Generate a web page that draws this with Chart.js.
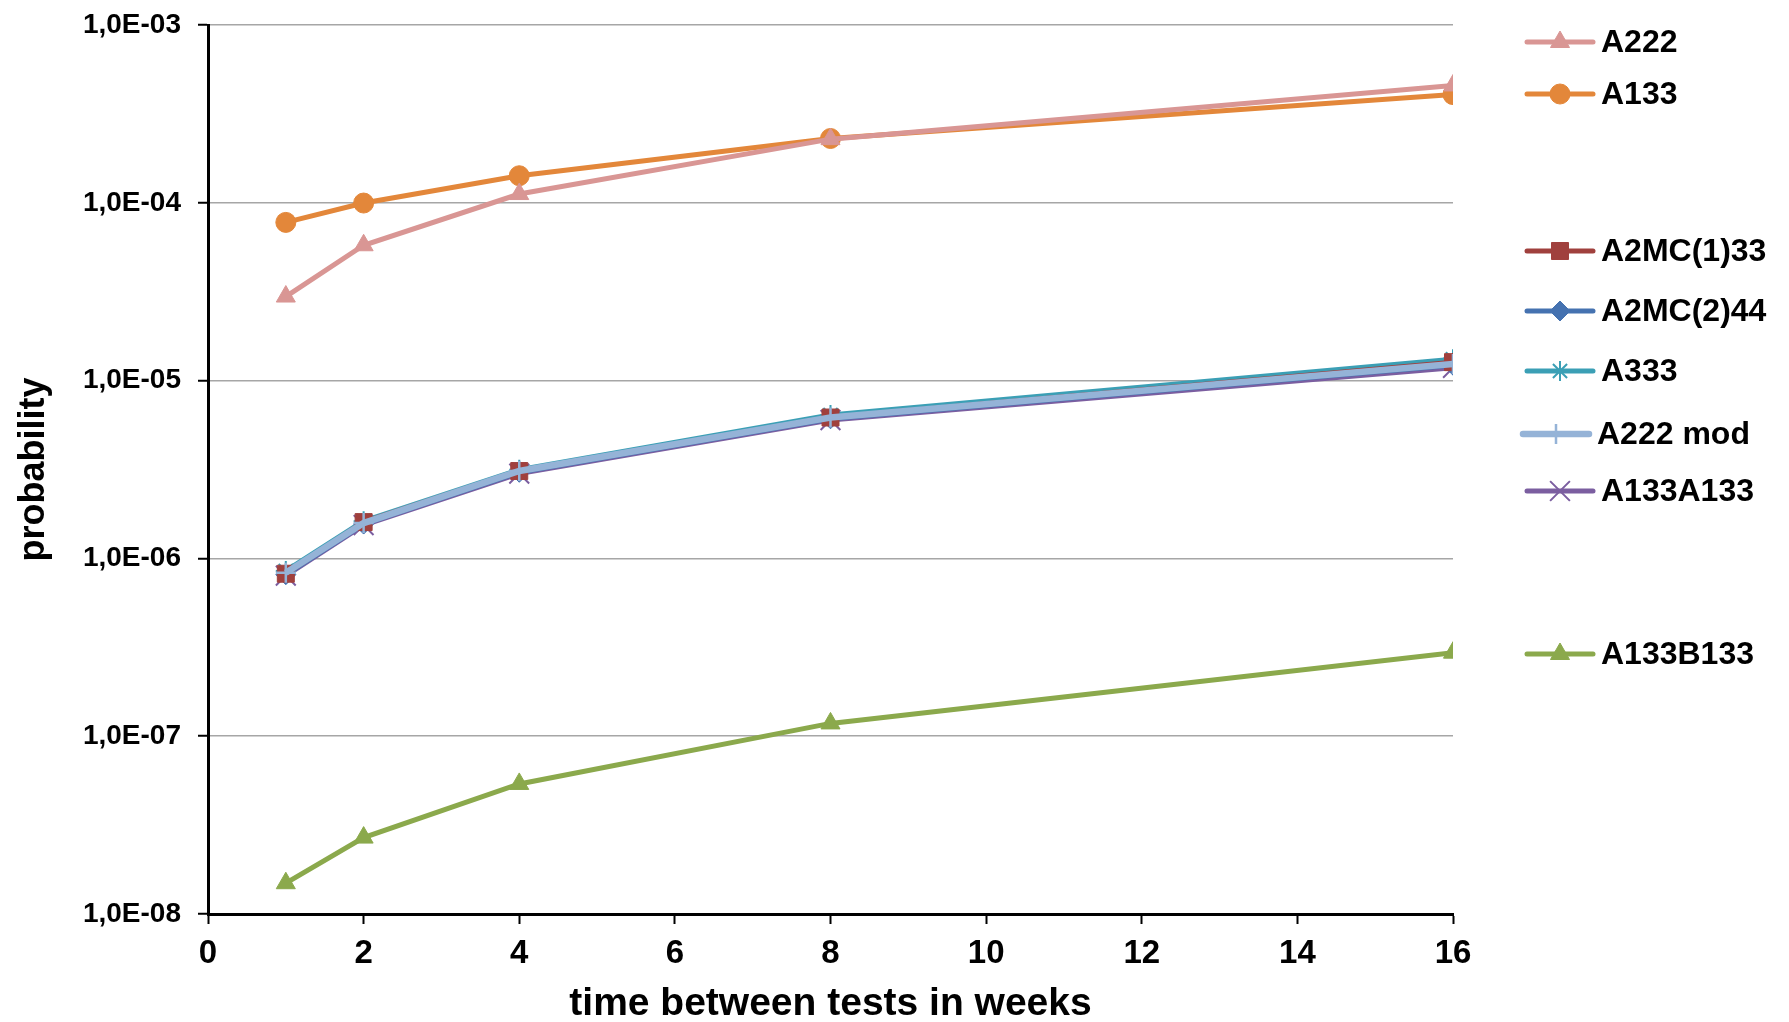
<!DOCTYPE html>
<html>
<head>
<meta charset="utf-8">
<style>
  html, body { margin: 0; padding: 0; background: #fff; }
  #wrap { width: 1789px; height: 1022px; }
</style>
<script src="https://cdn.jsdelivr.net/npm/chart.js@4/dist/chart.umd.min.js"></script>
</head>
<body>
<div id="wrap"><canvas id="c" width="1789" height="1022"></canvas></div>
<script>
// ---------- data ----------
const weeks = [1, 2, 4, 8, 16];
const seriesNames = ['A222', 'A133', 'A2MC(1)33', 'A2MC(2)44', 'A333', 'A222 mod', 'A133A133', 'A133B133'];
const A222      = [2.97e-5, 5.77e-5, 1.12e-4, 2.28e-4, 4.57e-4];
const A133      = [7.76e-5, 9.97e-5, 1.42e-4, 2.30e-4, 4.06e-4];
const A2MC1_33  = [8.2e-7, 1.60e-6, 3.10e-6, 6.2e-6, 1.27e-5];
const A2MC2_44  = [8.1e-7, 1.56e-6, 3.05e-6, 6.1e-6, 1.22e-5];
const A333      = [8.5e-7, 1.62e-6, 3.15e-6, 6.4e-6, 1.32e-5];
const A222mod   = [8.3e-7, 1.58e-6, 3.10e-6, 6.2e-6, 1.24e-5];
const A133A133  = [8.0e-7, 1.54e-6, 3.00e-6, 6.0e-6, 1.18e-5];
const A133B133  = [1.49e-8, 2.69e-8, 5.39e-8, 1.18e-7, 2.95e-7];
const yTickValues = [1e-8, 1e-7, 1e-6, 1e-5, 1e-4, 1e-3];
const yTickLabels = ['1,0E-08', '1,0E-07', '1,0E-06', '1,0E-05', '1,0E-04', '1,0E-03'];
const xTickValues = [0, 2, 4, 6, 8, 10, 12, 14, 16];

// ---------- styles ----------
const styles = [
  { color: '#D99694', style: 'triangle', radius: 11, width: 5,   order: 1, legendY: 42 },
  { color: '#E3873A', style: 'circle',   radius: 10, width: 5,   order: 2, legendY: 94 },
  { color: '#A0403D', style: 'rect',     radius: 12, width: 5,   order: 3, legendY: 251 },
  { color: '#4572B0', style: 'rectRot',  radius: 10, width: 5,   order: 4, legendY: 311 },
  { color: '#3B9FB5', style: 'star',     radius: 10, width: 5,   order: 5, legendY: 371, bw: 2 },
  { color: '#95B3D7', style: 'cross',    radius: 10, width: 6.5, order: 0, legendY: 434, bw: 2.5, shift: -4 },
  { color: '#7B5EA0', style: 'crossRot', radius: 14, width: 5,   order: 6, legendY: 491, bw: 2 },
  { color: '#8BA94C', style: 'triangle', radius: 11, width: 5,   order: 7, legendY: 654 }
];
const allSeries = [A222, A133, A2MC1_33, A2MC2_44, A333, A222mod, A133A133, A133B133];

const datasets = allSeries.map((vals, i) => {
  const s = styles[i];
  return {
    label: seriesNames[i],
    data: weeks.map((w, j) => ({ x: w, y: vals[j] })),
    borderColor: s.color,
    backgroundColor: s.color,
    borderWidth: s.width,
    pointStyle: s.style,
    pointRadius: s.radius,
    pointHoverRadius: s.radius,
    pointBorderWidth: s.bw || 1,
    pointBorderColor: s.color,
    pointBackgroundColor: s.color,
    tension: 0,
    order: s.order
  };
});

const FONT = "'Liberation Sans', Arial, Helvetica, sans-serif";

function drawMarker(ctx, s, x, y) {
  if (Chart.helpers && Chart.helpers.drawPoint) {
    ctx.fillStyle = s.color;
    ctx.strokeStyle = s.color;
    ctx.lineWidth = s.bw || 1;
    Chart.helpers.drawPoint(ctx, { pointStyle: s.style, radius: s.radius, rotation: 0, borderWidth: s.bw || 1 }, x, y);
  }
}

const legendPlugin = {
  id: 'customLegend',
  afterDraw(chart) {
    const ctx = chart.ctx;
    ctx.save();
    seriesNames.forEach((name, i) => {
      const s = styles[i];
      const sh = s.shift || 0;
      const y = s.legendY;
      const x1 = 1527 + sh, x2 = 1593 + sh;
      ctx.strokeStyle = s.color;
      ctx.lineWidth = s.width;
      ctx.lineCap = 'round';
      ctx.beginPath();
      ctx.moveTo(x1, y);
      ctx.lineTo(x2, y);
      ctx.stroke();
      ctx.lineCap = 'butt';
      drawMarker(ctx, s, (x1 + x2) / 2, y);
      ctx.fillStyle = '#000';
      ctx.font = 'bold 32px ' + FONT;
      ctx.textAlign = 'left';
      ctx.textBaseline = 'middle';
      ctx.fillText(name, 1601 + sh, y + 1);
    });
    ctx.restore();
  }
};

new Chart(document.getElementById('c'), {
  type: 'line',
  data: { datasets },
  options: {
    responsive: false,
    animation: false,
    devicePixelRatio: 1,
    layout: { padding: { top: 25, right: 336, bottom: 0, left: 0 } },
    plugins: { legend: { display: false }, tooltip: { enabled: false } },
    scales: {
      x: {
        type: 'linear',
        min: 0, max: 16,
        afterBuildTicks: (s) => { s.ticks = xTickValues.map(v => ({ value: v })); },
        afterFit: (s) => { s.height = 108; },
        grid: { drawOnChartArea: false, drawTicks: true, tickLength: 10, tickColor: '#000', tickWidth: 2 },
        border: { color: '#000', width: 3 },
        ticks: { color: '#000', font: { family: FONT, size: 33, weight: 'bold' }, padding: 10, maxRotation: 0, autoSkip: false },
        title: { display: true, text: 'time between tests in weeks', color: '#000',
                 font: { family: FONT, size: 39, weight: 'bold', lineHeight: 0.9 }, padding: { top: 0, bottom: 0 } }
      },
      y: {
        type: 'logarithmic',
        min: 1e-8, max: 1e-3,
        afterBuildTicks: (s) => { s.ticks = yTickValues.map(v => ({ value: v })); },
        afterFit: (s) => { s.width = 208; s.paddingTop = 0; s.paddingBottom = 0; },
        grid: { color: '#A6A6A6', lineWidth: 1.5, drawTicks: true, tickLength: 10, tickColor: '#000', tickWidth: 2 },
        border: { color: '#000', width: 3 },
        ticks: {
          color: '#000', font: { family: FONT, size: 28, weight: 'bold' }, padding: 17, autoSkip: false,
          callback: (v) => { const k = yTickValues.findIndex(t => Math.abs(Math.log10(t) - Math.log10(v)) < 1e-6); return k >= 0 ? yTickLabels[k] : ''; }
        },
        title: { display: true, text: 'probability', color: '#000',
                 font: { family: FONT, size: 36, weight: 'bold', lineHeight: 1.2 }, padding: { top: 12, bottom: 0 } }
      }
    }
  },
  plugins: [legendPlugin]
});
</script>
</body>
</html>
